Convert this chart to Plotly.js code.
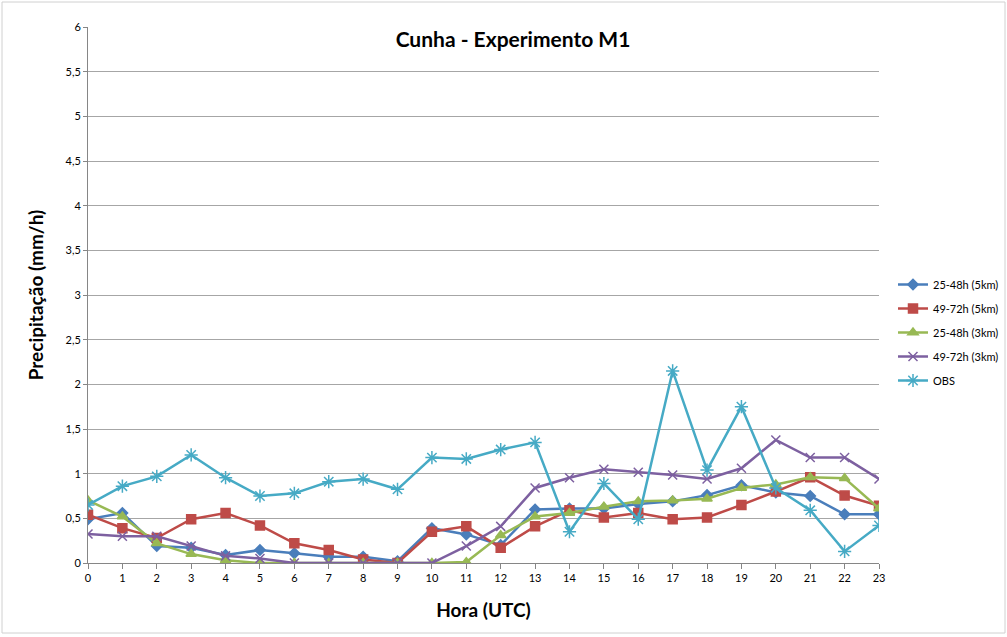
<!DOCTYPE html>
<html>
<head>
<meta charset="utf-8">
<script src="https://cdn.plot.ly/plotly-3.0.1.min.js"></script>
<style>html,body{margin:0;padding:0;background:#fff;}#chart{width:1007px;height:637px;}</style>
</head>
<body>
<div id="chart"></div>
<script>
const hours = [0,1,2,3,4,5,6,7,8,9,10,11,12,13,14,15,16,17,18,19,20,21,22,23];
const s25_48_5km = [0.49,0.56,0.19,0.17,0.09,0.145,0.11,0.07,0.07,0.02,0.39,0.32,0.20,0.60,0.61,0.61,0.66,0.69,0.76,0.87,0.79,0.75,0.545,0.545];
const s49_72_5km = [0.54,0.39,0.28,0.49,0.56,0.42,0.22,0.145,0.04,0.0,0.35,0.41,0.17,0.41,0.59,0.51,0.56,0.49,0.51,0.65,0.80,0.96,0.755,0.64];
const s25_48_3km = [0.70,0.52,0.22,0.10,0.03,0.0,0.0,0.0,0.0,0.0,0.0,0.01,0.31,0.52,0.56,0.63,0.69,0.70,0.72,0.84,0.88,0.96,0.95,0.61];
const s49_72_3km = [0.325,0.30,0.30,0.19,0.08,0.05,0.0,0.0,0.0,0.0,0.0,0.19,0.41,0.84,0.955,1.05,1.015,0.985,0.94,1.06,1.377,1.18,1.18,0.94];
const obs = [0.65,0.86,0.97,1.21,0.955,0.75,0.78,0.91,0.94,0.825,1.18,1.165,1.27,1.35,0.35,0.89,0.49,2.15,1.04,1.75,0.84,0.59,0.13,0.42];
const names = ['25-48h (5km)','49-72h (5km)','25-48h (3km)','49-72h (3km)','OBS'];
const seriesList = [s25_48_5km, s49_72_5km, s25_48_3km, s49_72_3km, obs];
const colors = ['#4A7EBB','#BE4B48','#98B954','#7D60A0','#46AAC5'];
const symbols = ['diamond','square','triangle-up','x-thin-open','asterisk-open'];
const msizes = [8,9,9,9,11];

const traces = seriesList.map((ys,i)=>({
  x: hours, y: ys, name: names[i], type:'scatter', mode:'lines+markers',
  legendgroup: 'g'+i,
  line:{color:colors[i], width:2.5},
  marker:{symbol:symbols[i], size:msizes[i], color:colors[i], line:{color:colors[i], width:1.5}}
}));

const W=1007,H=637,L=88,R=128,T=27,B=74;
const pw=W-L-R, ph=H-T-B;
const layout = {
  width:W, height:H,
  margin:{l:L,r:R,t:T,b:B,pad:0,autoexpand:false},
  paper_bgcolor:'#fff', plot_bgcolor:'#fff',
  separators:',.',
  font:{family:'Lato, "Open Sans", sans-serif', color:'#000'},
  title:{text:'<b>Cunha - Experimento M1</b>', font:{size:21, family:'Lato, sans-serif'}, x:513/W, xanchor:'center', y:1-40/H, yanchor:'middle'},
  xaxis:{
    range:[0,23], tickmode:'array', tickvals:hours, ticktext:hours.map(String),
    showgrid:false, zeroline:false, showline:true, linecolor:'#868686', linewidth:1,
    ticks:'outside', ticklen:5, tickcolor:'#868686', tickfont:{size:11},
    title:{text:'<b>Hora (UTC)</b>', font:{size:19}, standoff:20}
  },
  yaxis:{
    range:[0,6], dtick:0.5, tick0:0, showgrid:true, gridcolor:'#a6a6a6', gridwidth:1,
    zeroline:false, showline:true, linecolor:'#868686', linewidth:1,
    ticks:'outside', ticklen:4, tickcolor:'#868686', tickfont:{size:11},
    title:{text:'<b>Precipitação (mm/h)</b>', font:{size:19}, standoff:16}
  },
  legend:{x:(893-L)/pw, xanchor:'left', y:(H-B-270)/ph, yanchor:'top',
    font:{size:11}, traceorder:'grouped', tracegroupgap:5, itemwidth:30, bgcolor:'rgba(0,0,0,0)'},
  shapes:[{type:'rect', xref:'paper', yref:'paper',
    x0:(2-L)/pw, x1:(1005-L)/pw, y0:(H-B-633)/ph, y1:(H-B-2)/ph,
    line:{color:'#d0d0d0', width:1}, fillcolor:'rgba(0,0,0,0)', layer:'below'}],
  showlegend:true
};
Plotly.newPlot('chart', traces, layout, {displayModeBar:false, staticPlot:true});
</script>
</body>
</html>
